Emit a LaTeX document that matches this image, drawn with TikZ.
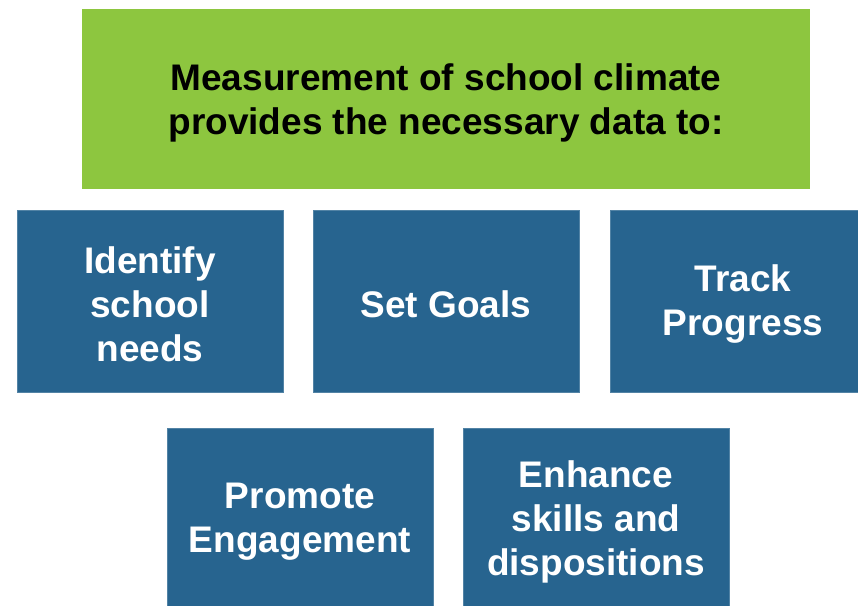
\documentclass[tikz,border=0pt]{standalone}
\usepackage{xcolor}
\usepackage{fontspec}
\setmainfont{Liberation Sans}
\usepackage{tikz}

\definecolor{climategreen}{HTML}{8DC63F}
\definecolor{climateblue}{HTML}{27648F}

\begin{document}
\begin{tikzpicture}[x=1pt, y=-1pt]
\def\boxwidth{266}
\def\boxheight{182}
\def\labelfontsize{\fontsize{37}{44}\selectfont\bfseries}
\tikzset{
  goalbox/.style={fill=climateblue, draw=climateblue!80!white, line width=0.8pt},
  goaltext/.style={inner sep=0pt, text=white, align=center, font=\labelfontsize},
  titletext/.style={inner sep=0pt, text=black, align=center, font=\labelfontsize}
}
\useasboundingbox (0,0) rectangle (858,605);
\clip (0,0) rectangle (858,605);

% HEADER
\fill[climategreen] (82, 9) rectangle +(728, 180);
\node [titletext] (title) at (446, 103) {Measurement of school climate\\provides the necessary data to:};

% FIRST ROW
\draw[goalbox] (17, 210) rectangle +(\boxwidth, \boxheight);
\draw[goalbox] (313, 210) rectangle +(\boxwidth, \boxheight);
\draw[goalbox] (610, 210) rectangle +(\boxwidth, \boxheight);
\node [goaltext] (needs) at (150, 304) {Identify\\school\\needs};
\node [goaltext] (goals) at (446, 304) {Set Goals};
\node [goaltext] (progress) at (743, 304) {Track\\Progress};

% SECOND ROW
\draw[goalbox] (167, 428) rectangle +(\boxwidth, \boxheight);
\draw[goalbox] (463, 428) rectangle +(\boxwidth, \boxheight);
\node [goaltext] (engagement) at (300, 522) {Promote\\Engagement};
\node [goaltext] (skills) at (596, 522) {Enhance\\skills and\\dispositions};
\end{tikzpicture}
\end{document}
